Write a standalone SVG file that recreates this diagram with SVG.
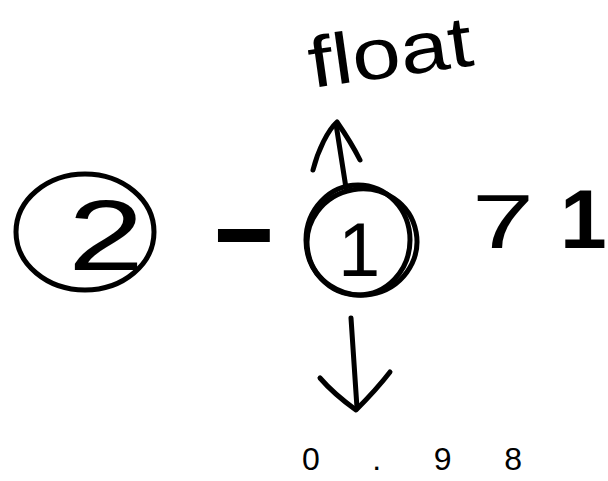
<svg xmlns="http://www.w3.org/2000/svg" width="608" height="481" viewBox="0 0 608 481">
<style>
.s{fill:none;stroke:#000;stroke-width:5;stroke-linecap:round;stroke-linejoin:round}
.t{font-family:"Liberation Sans",Arial,sans-serif;fill:#000}
</style>
<rect width="608" height="481" fill="#fff"/>
<g id="node-two">
<ellipse class="s" cx="85" cy="232" rx="69" ry="58"/>
<text class="t" x="68" y="270" font-size="100" textLength="76" lengthAdjust="spacingAndGlyphs">2</text>
</g>
<g id="node-minus">
<text class="t" x="210" y="264" font-size="110" font-weight="bold" textLength="68" lengthAdjust="spacingAndGlyphs">-</text>
</g>
<g id="node-one">
<ellipse class="s" cx="358" cy="240" rx="52" ry="55"/>
<ellipse class="s" cx="362" cy="242" rx="55" ry="53" transform="rotate(-10 362 242)"/>
<text class="t" x="338" y="276" font-size="76">1</text>
</g>
<g id="node-gt">
<text class="t" x="472" y="248" font-size="76" textLength="62" lengthAdjust="spacingAndGlyphs">7</text>
<text class="t" x="560" y="248" font-size="84" font-weight="bold">1</text>
</g>
<g id="node-float">
<text class="t" x="312" y="88" font-size="72" textLength="165" lengthAdjust="spacingAndGlyphs" transform="rotate(-8 312 88)">float</text>
</g>
<g id="node-bottom">
<text class="t" x="302" y="470" font-size="32" textLength="220" lengthAdjust="spacing">0.98</text>
</g>
<g id="connectors">
<path class="s" d="M346 188 L336 124"/>
<path class="s" d="M313 170 C318 150 328 130 337 122 C346 135 355 150 360 160"/>
<path class="s" d="M351 318 L357 408"/>
<path class="s" d="M320 378 C332 392 345 402 356 410 C368 398 380 385 390 372"/>
</g>
</svg>
